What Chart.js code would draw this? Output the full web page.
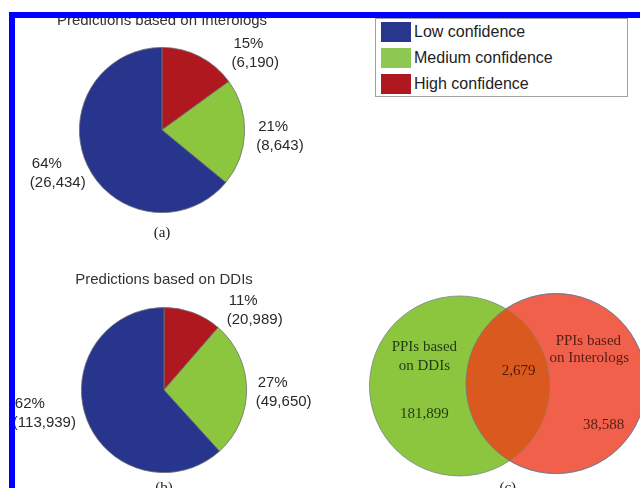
<!DOCTYPE html>
<html>
<head>
<meta charset="utf-8">
<script src="https://cdn.jsdelivr.net/npm/chart.js@4.4.0/dist/chart.umd.min.js"></script>
<style>
  html, body { margin: 0; padding: 0; background: #fff; }
  body { width: 640px; height: 488px; position: relative; overflow: hidden; font-family: "Liberation Sans", Arial, sans-serif; }
  canvas { position: absolute; }
  .frame { position: absolute; background: #0000ff; z-index: 5; }
  #legend { position: absolute; left: 375px; top: 18px; width: 253px; height: 79px; border: 1px solid #a0a0a0; box-sizing: border-box; background: #fff; }
  #legend .row { position: absolute; left: 5px; height: 20px; }
  #legend .sw { position: absolute; left: 0; top: 0; width: 30px; height: 20px; }
  #legend .tx { position: absolute; left: 33px; top: -1px; font-size: 16px; line-height: 22px; color: #222; white-space: nowrap; }
</style>
</head>
<body>
<div class="frame" style="left:9px; top:12px; width:6px; height:476px;"></div>
<div class="frame" style="left:9px; top:12px; width:631px; height:6px;"></div>

<canvas id="pieA" width="324" height="250" style="left:0; top:0;"></canvas>
<canvas id="pieB" width="328" height="260" style="left:0; top:255px;"></canvas>
<canvas id="venn" width="280" height="240" style="left:360px; top:280px;"></canvas>
<div id="legend"></div>

<script>
// pie slices, clockwise from 12 o'clock
const confidenceLabels = ['High confidence', 'Medium confidence', 'Low confidence'];
const interologCounts = [6190, 8643, 26434];
const ddiCounts = [20989, 49650, 113939];
const legendOrder = [2, 1, 0];

// venn: DDIs only, both, Interologs only
const vennSetLabels = [['PPIs based', 'on DDIs'], ['PPIs based', 'on Interologs']];
const vennCounts = [181899, 2679, 38588];

const sliceColors = ['#B0181F', '#8CC63F', '#28358D'];
const legendColors = ['#B0181F', '#8DC853', '#28368E'];
const sansFont = '"Liberation Sans", Arial, sans-serif';
const serifFont = '"Liberation Serif", "Times New Roman", serif';

// legend (shared by both pies)
const legend = document.getElementById('legend');
legendOrder.forEach((idx, row) => {
  const r = document.createElement('div');
  r.className = 'row';
  r.style.top = (3 + row * 26) + 'px';
  r.innerHTML = '<div class="sw" style="background:' + legendColors[idx] + '"></div>' +
    '<div class="tx">' + confidenceLabels[idx] + '</div>';
  legend.appendChild(r);
});

const sliceLabelPlugin = {
  id: 'sliceLabels',
  afterDatasetsDraw(chart, args, opts) {
    const ctx = chart.ctx;
    const arc = chart.getDatasetMeta(0).data[0];
    const values = chart.data.datasets[0].data;
    const total = values.reduce((a, b) => a + b, 0);
    ctx.save();
    ctx.font = '15px ' + sansFont;
    ctx.fillStyle = '#2a2a2a';
    ctx.textAlign = 'left';
    ctx.textBaseline = 'middle';
    values.forEach((v, i) => {
      const [dx, dy] = opts.offsets[i];
      const lx = arc.x + dx * arc.outerRadius;
      const ly = arc.y + dy * arc.outerRadius;
      ctx.fillText(Math.round(v / total * 100) + '%', lx + 2, ly - 9.5);
      ctx.fillText('(' + v.toLocaleString('en-US') + ')', lx, ly + 9.5);
    });
    ctx.restore();
  }
};

function makePie(id, values, title, caption, titlePad, captionPad, offsets) {
  return new Chart(document.getElementById(id), {
    type: 'pie',
    data: {
      labels: confidenceLabels,
      datasets: [{
        data: values,
        backgroundColor: sliceColors,
        borderColor: '#707070',
        borderWidth: 0.8,
        hoverOffset: 0
      }]
    },
    options: {
      responsive: false,
      animation: false,
      events: [],
      plugins: {
        legend: { display: false },
        tooltip: { enabled: false },
        title: {
          display: true,
          text: title,
          color: '#333',
          font: { family: sansFont, size: 15, weight: 'normal' },
          padding: titlePad
        },
        subtitle: {
          display: true,
          position: 'bottom',
          text: caption,
          color: '#222',
          font: { family: serifFont, size: 15, weight: 'normal' },
          padding: captionPad
        },
        sliceLabels: { offsets }
      }
    },
    plugins: [sliceLabelPlugin]
  });
}

makePie('pieA', interologCounts, 'Predictions based on Interologs', '(a)',
  { top: 12, bottom: 17 }, { top: 11, bottom: 8 },
  [[0.84, -0.93], [1.14, 0.08], [-1.60, 0.53]]);

makePie('pieB', ddiCounts, 'Predictions based on DDIs', '(b)',
  { top: 16, bottom: 18 }, { top: 6, bottom: 18 },
  [[0.76, -0.97], [1.11, 0.03], [-1.83, 0.28]]);

// venn diagram: two bubbles, overlap painted by plugin
const vennPlugin = {
  id: 'vennOverlap',
  afterDatasetsDraw(chart) {
    const ctx = chart.ctx;
    const a = chart.getDatasetMeta(0).data[0];
    const b = chart.getDatasetMeta(1).data[0];
    const r = a.options.radius;
    ctx.save();
    ctx.beginPath();
    ctx.arc(a.x, a.y, r, 0, Math.PI * 2);
    ctx.clip();
    ctx.beginPath();
    ctx.arc(b.x, b.y, b.options.radius, 0, Math.PI * 2);
    ctx.fillStyle = '#D9591F';
    ctx.fill();
    ctx.restore();

    ctx.save();
    ctx.beginPath();
    ctx.arc(b.x, b.y, b.options.radius, 0, Math.PI * 2);
    ctx.strokeStyle = 'rgba(110,120,140,0.7)';
    ctx.lineWidth = 1;
    ctx.stroke();

    ctx.font = '15px ' + serifFont;
    ctx.textAlign = 'center';
    ctx.textBaseline = 'middle';
    ctx.fillStyle = '#1f3a12';
    ctx.fillText(vennSetLabels[0][0], a.x - 0.39 * r, a.y - 0.43 * r);
    ctx.fillText(vennSetLabels[0][1], a.x - 0.39 * r, a.y - 0.22 * r);
    ctx.fillText(vennCounts[0].toLocaleString('en-US'), a.x - 0.39 * r, a.y + 0.31 * r);
    ctx.fillStyle = '#4d1a08';
    ctx.fillText(vennCounts[1].toLocaleString('en-US'), (a.x + b.x) / 2 + 11, a.y - 0.16 * r);
    ctx.fillStyle = '#5a1c12';
    ctx.fillText(vennSetLabels[1][0], b.x + 0.36 * r, b.y - 0.47 * r);
    ctx.fillText(vennSetLabels[1][1], b.x + 0.37 * r, b.y - 0.28 * r);
    ctx.fillText(vennCounts[2].toLocaleString('en-US'), b.x + 0.53 * r, b.y + 0.46 * r);
    ctx.fillStyle = '#222';
    ctx.fillText('(c)', (a.x + b.x) / 2, a.y + 1.14 * r);
    ctx.restore();
  }
};

new Chart(document.getElementById('venn'), {
  type: 'scatter',
  data: {
    datasets: [
      { data: [{ x: 0, y: 0 }], backgroundColor: '#8CC63F', borderColor: 'rgba(110,120,140,0.7)', borderWidth: 1,
        pointRadius: 90, pointHoverRadius: 90, clip: false },
      { data: [{ x: 1, y: 0.02 }], backgroundColor: '#F0604A', borderColor: 'rgba(110,120,140,0.7)', borderWidth: 1,
        pointRadius: 90, pointHoverRadius: 90, clip: false }
    ]
  },
  options: {
    responsive: false,
    animation: false,
    events: [],
    layout: { padding: 0, autoPadding: false },
    plugins: { legend: { display: false }, tooltip: { enabled: false } },
    scales: {
      x: { display: false, min: -1.031, max: 1.871 },
      y: { display: false, min: -1.117, max: 0.883 }
    }
  },
  plugins: [vennPlugin]
});
</script>
</body>
</html>
